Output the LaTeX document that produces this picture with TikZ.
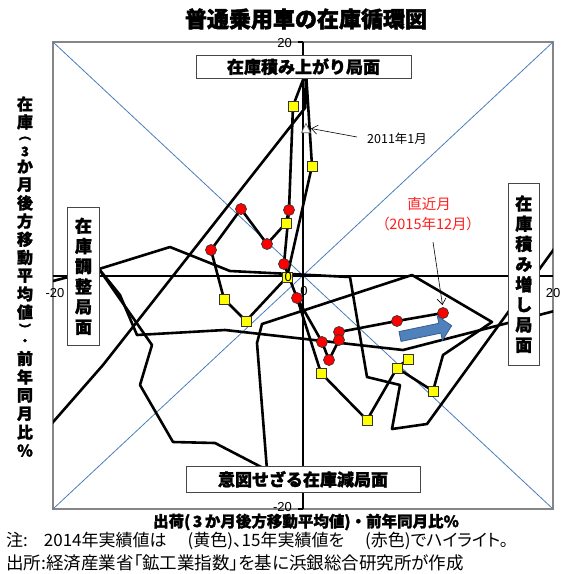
\documentclass[tikz,border=0pt]{standalone}
\usepackage{fontspec}
\setmainfont{Liberation Sans}
\newfontfamily\jp{Noto Sans CJK JP}[BoldFeatures={FakeBold=1.5}]
\newfontfamily\jph{Noto Sans CJK JP}[BoldFeatures={FakeBold=2}]
\newfontfamily\jpp{Noto Sans CJK JP}[RawFeature=+palt]
\usetikzlibrary{arrows.meta}
\definecolor{diagblue}{RGB}{74,126,187}
\definecolor{arrowblue}{RGB}{79,129,189}
\definecolor{arrowedge}{RGB}{56,93,138}
\definecolor{boxgray}{RGB}{70,70,70}
\definecolor{framegray}{RGB}{134,134,134}
\definecolor{mkyellow}{RGB}{255,255,0}
\definecolor{mkred}{RGB}{255,0,0}
\definecolor{notered}{RGB}{255,30,30}
\tikzset{
  dataline/.style={line width=2.6pt, line join=round, line cap=round},
  ysq/.style={rectangle, draw=black!80, line width=0.7pt, fill=mkyellow, minimum size=10pt, inner sep=0pt},
  rdot/.style={circle, draw=black!80, line width=0.7pt, fill=mkred, minimum size=11pt, inner sep=0pt},
  phasebox/.style={draw=boxgray, line width=0.8pt, fill=white, inner sep=0pt},
  phasetext/.style={font=\jp\bfseries\fontsize{17}{20.2}\selectfont},
  ticklab/.style={font=\fontsize{13}{13}\selectfont, inner sep=0pt},
  ylab/.style={font=\jp\bfseries\fontsize{#1}{#1}\selectfont, inner sep=0pt},
  callout/.style={line width=0.6pt, -{Straight Barb[length=6pt,width=9pt]}},
  notetext/.style={font=\jpp\fontsize{#1}{#1}\selectfont, inner sep=0pt, anchor=west},
}
\begin{document}
\begin{tikzpicture}[x=1pt,y=-1pt]
\useasboundingbox (0,0) rectangle (566,574);
% title
\node[font=\jph\bfseries\fontsize{22}{22}\selectfont, inner sep=0pt] (title) at (306,19) {普通乗用車の在庫循環図};
% plot frame
\draw[framegray, line width=1.5pt] (53,42) rectangle (553,509);
% diagonals
\draw[diagblue, line width=0.8pt] (53,42) -- (553,509);
\draw[diagblue, line width=0.8pt] (553,42) -- (53,509);
% axes
\draw[black, line width=1.6pt] (303,42) -- (303,509);
\draw[black, line width=1.6pt] (53,276) -- (553,276);
\draw[black, line width=1.2pt] (298,42) -- (303,42);
\draw[black, line width=1.2pt] (298,509) -- (303,509);
% tick labels
\node[ticklab, anchor=east] (t20) at (292,43) {20};
\node[ticklab, anchor=east] (tm20) at (292,507) {-20};
\node[ticklab] (tlm20) at (55,293) {-20};
\node[ticklab] (tr20) at (553,293) {20};
\node[ticklab] (tx0) at (304,291) {0};
% data points
\coordinate (pk) at (306,72);
\coordinate (y1) at (293,106);
\coordinate (y2) at (312,166);
\coordinate (ya) at (286,223);
\coordinate (yb) at (287,277);
\coordinate (yc) at (224,299);
\coordinate (yd) at (246,321);
\coordinate (y3) at (321,373);
\coordinate (y4) at (367,420);
\coordinate (y5) at (397,368);
\coordinate (y6) at (408,359);
\coordinate (y7) at (433,391);
\coordinate (rd) at (289,210);
\coordinate (ra) at (241,209);
\coordinate (rb) at (211,250);
\coordinate (rc) at (267,244);
\coordinate (re) at (284,264);
\coordinate (rf) at (297,298);
\coordinate (rg) at (322,342);
\coordinate (rh) at (339,332);
\coordinate (ri) at (339,340);
\coordinate (rj) at (329,360);
\coordinate (rk) at (397,321);
\coordinate (rl) at (443,313);
\coordinate (vv) at (99,269);
\begin{scope}
\clip (53,42) rectangle (553,509);
\draw[dataline] (40,437) -- (103,365) -- (305,108) -- (pk) -- (y1) -- (rd) -- (ya) -- (rc) -- (ra) -- (rb) -- (yc) -- (yd) -- (yb) -- (y2) -- (pk);
\draw[dataline] (rd) -- (re) -- (rf) -- (y3) -- (y4) -- (y5) -- (y7) -- (443,355) -- (492,322) -- (412,275) -- (262,324) -- (257,343) -- (267,470) -- (215,443) -- (173,442) -- (140,385) -- (152,345) -- (vv) -- (30,287);
\draw[dataline] (vv) -- (170,247) -- (230,271) -- (350,277) -- (367,377) -- (400,385) -- (392,429) -- (427,424) -- (570,227);
\draw[dataline] (vv) -- (120,295) -- (137,335) -- (225,330) -- (403,350) -- (570,307);
\draw[dataline] (rf) -- (rg) -- (rj) -- (ri) -- (rh) -- (rk) -- (rl);
\draw[dataline] (y5) -- (y6);
\end{scope}
% markers
\foreach \p in {y1,y2,ya,yb,yc,yd,y3,y4,y5,y6,y7} \node[ysq] (m\p) at (\p) {};
\foreach \p in {rd,ra,rb,rc,re,rf,rg,rh,ri,rj,rk,rl} \node[rdot] (m\p) at (\p) {};
\node[ticklab, anchor=east] (ty0) at (292,277) {0};
\coordinate (st) at (306,128);
\draw[draw=black!60, fill=white, line width=0.7pt] (301.5,132.8) -- (306,123.4) -- (310.5,132.8) -- cycle;
% phase boxes
\node[phasebox, phasetext, minimum width=215pt, minimum height=23.3pt] (boxT) at (303.5,66.7) {在庫積み上がり局面};
\node[phasebox, phasetext, minimum width=234pt, minimum height=26.7pt] (boxB) at (303,479.3) {意図せざる在庫減局面};
\node[phasebox, phasetext, align=center, minimum width=31.6pt, minimum height=137.3pt] (boxL) at (83.5,276.3) {在\\庫\\調\\整\\局\\面};
\node[phasebox, phasetext, align=center, minimum width=31pt, minimum height=181.7pt] (boxR) at (523.8,274.2) {在\\庫\\積\\み\\増\\し\\局\\面};
% annotations
\node[font=\jpp\fontsize{12.5}{12.5}\selectfont, inner sep=0pt, anchor=west] (lab2011) at (367,139) {2011年1月};
\coordinate (a1s) at (357,137);
\draw[callout] (a1s) -- (311,128.5);
\node[font=\jpp\fontsize{14.5}{14.5}\selectfont, text=notered, inner sep=0pt] (labrec) at (429,204) {直近月};
\node[font=\jpp\fontsize{14.5}{14.5}\selectfont, text=notered, inner sep=0pt] (labrec2) at (428,224) {（2015年12月）};
\coordinate (a2s) at (433,242);
\draw[callout] (a2s) -- (442.5,305);
% blue block arrow
\draw[fill=arrowblue, draw=arrowedge, line width=0.8pt, line join=round] (399,331.6) -- (438.8,323.3) -- (437.3,315.9) -- (451.7,325.7) -- (442.4,340.4) -- (440.9,333.1) -- (401,341.4) -- cycle;
% axis titles
\foreach \ch/\yy/\fs [count=\i] in {在/104/16,庫/122/16,︵/138.5/12,3/151.5/13,か/166.5/16,月/184.7/16,後/202.9/16,方/221.1/16,移/239.3/16,動/257.5/16,平/275.7/16,均/293.9/16,値/312.1/16,︶/328.6/12,・/342/12,前/358.5/16,年/377/16,同/395.4/16,月/413.8/16,比/432.2/16,\%/450.6/16}
  \node[ylab=\fs] (yl\i) at (25,\yy) {\ch};
\node[font=\jp\bfseries\fontsize{15.5}{15.5}\selectfont, inner sep=0pt] (xlab) at (306,522) {出荷(\,3\,か月後方移動平均値)・前年同月比\%};
% notes
\node[notetext=17] (note1) at (6,541) {注:\hspace{16pt}2014年実績値は\hspace{21pt}(黄色)、15年実績値を\hspace{21pt}(赤色)でハイライト。};
\node[notetext=17.5] (note2) at (6,563) {出所:経済産業省「鉱工業指数」を基に浜銀総合研究所が作成};
\end{tikzpicture}
\end{document}
